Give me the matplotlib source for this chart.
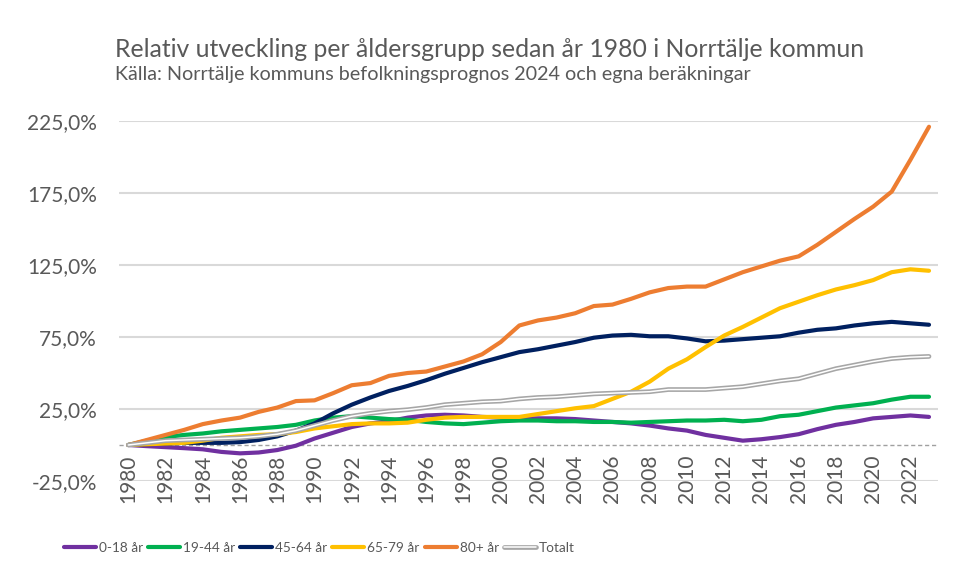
import matplotlib
matplotlib.use("Agg")
import matplotlib.pyplot as plt

plt.rcParams['font.family'] = ['Lato', 'DejaVu Sans']

years = list(range(1980, 2024))

age_0_18 = [0, -0.8, -1.5, -2.2, -3, -4.8, -5.8, -5.2, -3.5, -0.5,
            4.5, 8.5, 12.5, 15, 16.5, 19, 20.5, 21, 20.5, 19.5,
            19, 18.5, 18.5, 18.5, 18, 17, 16, 15, 13.5, 11.5,
            10, 7, 5, 3, 4, 5.5, 7.5, 11, 14, 16,
            18.5, 19.5, 20.5, 19.5]
age_19_44 = [0, 3, 5.5, 7, 8, 9.5, 10.5, 11.5, 12.5, 14,
             17, 19, 20, 19, 18, 17.5, 16, 15, 14.5, 15.5,
             16.5, 17, 17, 16.5, 16.5, 16, 16, 15.5, 16, 16.5,
             17, 17, 17.5, 16.5, 17.5, 20, 21, 23.5, 26, 27.5,
             29, 31.5, 33.5, 33.5]
age_45_64 = [0, 0.5, 1, 1.5, 1.5, 1.5, 2, 3.5, 6, 10,
             15, 22, 28, 33, 37.5, 41, 45, 49.5, 53.5, 57.5,
             61, 64.5, 66.5, 69, 71.5, 74.5, 76, 76.5, 75.5, 75.5,
             74, 72, 72.5, 73.5, 74.5, 75.5, 78, 80, 81, 83,
             84.5, 85.5, 84.5, 83.5]
age_65_79 = [0, 0.5, 1, 1.5, 3, 5, 6, 7, 7.5, 9,
             11.5, 13, 14.5, 15, 15, 15.5, 17.5, 19, 19.5, 19.5,
             19.5, 19.5, 21.5, 23.5, 25.5, 27, 32, 37, 44, 53,
             59.5, 68, 76, 82, 88.5, 95, 99.5, 104, 108, 111,
             114.5, 120, 122, 121]
age_80 = [0, 3.5, 7, 10.5, 14.5, 17, 19, 23, 26, 30.5,
          31, 36, 41.5, 43, 48, 50, 51, 54.5, 58, 63,
          71.5, 83, 86.5, 88.5, 91.5, 96.5, 97.5, 101.5, 106, 109,
          110, 110, 115, 120, 124, 128, 131, 139, 148, 157,
          165.5, 176, 198, 221]
totalt = [0, 1.5, 3, 3.5, 4, 4.5, 5, 6, 7.5, 10,
          13.5, 17, 20, 22, 23.5, 24.5, 26, 28, 29, 30,
          30.5, 32, 33, 33.5, 34.5, 35.5, 36, 36.5, 37, 38.5,
          38.5, 38.5, 39.5, 40.5, 42.5, 44.5, 46, 49.5, 53, 55.5,
          58, 60, 61, 61.5]

series_names = ['0-18 år', '19-44 år', '45-64 år', '65-79 år', '80+ år']
series_values = [age_0_18, age_19_44, age_45_64, age_65_79, age_80]
series_colors = ['#7030A0', '#00B050', '#002060', '#FFC000', '#ED7D31']

y_ticks = [-25, 25, 75, 125, 175, 225]
y_tick_labels = ['-25,0%', '25,0%', '75,0%', '125,0%', '175,0%', '225,0%']
x_ticks = list(range(1980, 2023, 2))

title = 'Relativ utveckling per åldersgrupp sedan år 1980 i Norrtälje kommun'
subtitle = 'Källa: Norrtälje kommuns befolkningsprognos 2024 och egna beräkningar'

text_color = '#595959'
legend_size = 9.8

fig = plt.figure(figsize=(9.56, 5.8), dpi=100)
ax = fig.add_axes([0.1245, 0.1707, 0.857, 0.6207])

for v in y_ticks:
    ax.axhline(v, color='#D9D9D9', lw=1.5, zorder=0)
ax.axhline(0, color='#A0A0A0', lw=1.0, ls=(0, (3, 2)), zorder=1)

handles = []
for name, vals, col in zip(series_names, series_values, series_colors):
    ln, = ax.plot(years, vals, color=col, lw=3, solid_capstyle='round',
                  solid_joinstyle='round', zorder=3)
    handles.append(ln)

t1, = ax.plot(years, totalt, color='#A6A6A6', lw=3.4, solid_capstyle='round',
              solid_joinstyle='round', zorder=4)
t2, = ax.plot(years, totalt, color='white', lw=1.1, solid_capstyle='round',
              solid_joinstyle='round', zorder=5)
handles.append((t1, t2))

for s in ax.spines.values():
    s.set_visible(False)
ax.spines['bottom'].set_position(('data', 0))

ax.set_xlim(1979.5, 2023.5)
ax.set_ylim(-25, 225)
ax.set_yticks(y_ticks)
ax.set_yticklabels(y_tick_labels)
ax.set_xticks(x_ticks)
ax.set_xticklabels([str(x) for x in x_ticks])
ax.tick_params(axis='both', length=0, colors=text_color, labelsize=15)
ax.tick_params(axis='y', pad=16)
ax.tick_params(axis='x', pad=7, labelrotation=90)

fig.text(115 / 956, 1 - 57 / 580, title, fontsize=17.8, color=text_color,
         ha='left', va='baseline')
fig.text(115 / 956, 1 - 80 / 580, subtitle, fontsize=14.2, color=text_color,
         ha='left', va='baseline')

fs_px = legend_size * 100 / 72
leg = fig.legend(handles, series_names + ['Totalt'], loc='center left',
                 bbox_to_anchor=(64 / 956, 1 - 548 / 580), ncol=6, frameon=False,
                 fontsize=legend_size, handlelength=32 / fs_px,
                 handletextpad=3 / fs_px, columnspacing=5 / fs_px,
                 borderpad=0, borderaxespad=0)
for t in leg.get_texts():
    t.set_color(text_color)

fig.savefig('out.png', dpi=100)
